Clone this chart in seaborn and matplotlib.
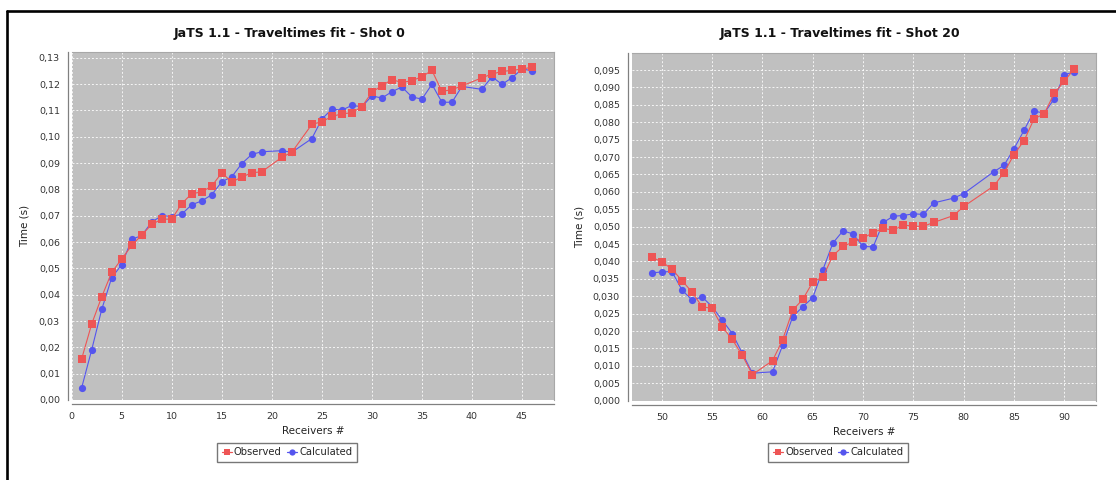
import matplotlib
matplotlib.use("Agg")
import matplotlib.pyplot as plt
import seaborn as sns
from matplotlib.ticker import FuncFormatter, MultipleLocator
from matplotlib.lines import Line2D
from matplotlib import font_manager

# ---- Shot 0 ----
rec_shot0 = [1, 2, 3, 4, 5, 6, 7, 8, 9, 10, 11, 12, 13, 14, 15, 16, 17, 18, 19,
             21, 22, 24, 25, 26, 27, 28, 29, 30, 31, 32, 33, 34, 35, 36, 37, 38, 39,
             41, 42, 43, 44, 45, 46]
obs_shot0 = [0.0157, 0.0289, 0.0392, 0.0485, 0.0536, 0.0587, 0.0627, 0.0667, 0.0687, 0.0687,
             0.0746, 0.0784, 0.0790, 0.0813, 0.0863, 0.0828, 0.0847, 0.0863, 0.0867,
             0.0922, 0.0941, 0.1047, 0.1057, 0.1077, 0.1087, 0.1091, 0.1114, 0.1169, 0.1194,
             0.1217, 0.1206, 0.1213, 0.1228, 0.1252, 0.1172, 0.1179, 0.1193,
             0.1224, 0.1238, 0.1248, 0.1252, 0.1257, 0.1264]
calc_shot0 = [0.0047, 0.0191, 0.0344, 0.0465, 0.0514, 0.0610, 0.0625, 0.0676, 0.0700, 0.0697,
              0.0706, 0.0742, 0.0756, 0.0780, 0.0829, 0.0848, 0.0898, 0.0933, 0.0943,
              0.0947, 0.0941, 0.0993, 0.1067, 0.1105, 0.1101, 0.1119, 0.1114, 0.1155, 0.1147,
              0.1171, 0.1189, 0.1151, 0.1143, 0.1199, 0.1131, 0.1131, 0.1191,
              0.1180, 0.1228, 0.1199, 0.1224, 0.1257, 0.1251]

# ---- Shot 20 ----
rec_shot20 = [49, 50, 51, 52, 53, 54, 55, 56, 57, 58, 59,
              61, 62, 63, 64, 65, 66, 67, 68, 69, 70, 71, 72, 73, 74, 75, 76, 77,
              79, 80, 83, 84, 85, 86, 87, 88, 89, 90, 91]
obs_shot20 = [0.0412, 0.0399, 0.0378, 0.0345, 0.0312, 0.0270, 0.0265, 0.0212, 0.0176, 0.0130, 0.0075,
              0.0115, 0.0175, 0.0260, 0.0291, 0.0341, 0.0355, 0.0417, 0.0443, 0.0456, 0.0467,
              0.0483, 0.0495, 0.0490, 0.0505, 0.0501, 0.0501, 0.0512,
              0.0532, 0.0558, 0.0617, 0.0655, 0.0707, 0.0747, 0.0810, 0.0824, 0.0883, 0.0918, 0.0954]
calc_shot20 = [0.0367, 0.0370, 0.0371, 0.0318, 0.0289, 0.0298, 0.0270, 0.0231, 0.0193, 0.0136, 0.0079,
               0.0083, 0.0159, 0.0241, 0.0270, 0.0296, 0.0376, 0.0453, 0.0488, 0.0479, 0.0443,
               0.0442, 0.0512, 0.0530, 0.0532, 0.0537, 0.0535, 0.0568,
               0.0582, 0.0595, 0.0658, 0.0676, 0.0724, 0.0777, 0.0832, 0.0826, 0.0867, 0.0937, 0.0944]

titles = ["JaTS 1.1 - Traveltimes fit - Shot 0", "JaTS 1.1 - Traveltimes fit - Shot 20"]
series_names = ["Observed", "Calculated"]
x_label = "Receivers #"
y_label = "Time (s)"

RED = "#EE5555"
BLUE = "#5555EE"
BG = "#C0C0C0"

sns.set_style("white")
plt.rcParams["font.family"] = ["DejaVu Sans"]

installed = {f.name for f in font_manager.fontManager.ttflist}
narrow = "Liberation Sans Narrow" if "Liberation Sans Narrow" in installed else None
title_family = [narrow] if narrow else ["DejaVu Sans"]
title_size = 11.5 if narrow else 9.0

W, H = 1116, 480
fig = plt.figure(figsize=(W / 100, H / 100), dpi=100)
fig.patch.set_facecolor("white")


def px_axes(x0, y0, x1, y1):
    return fig.add_axes([x0 / W, 1 - y1 / H, (x1 - x0) / W, (y1 - y0) / H])


def comma_fmt(decimals):
    return FuncFormatter(lambda v, p: f"{v:.{decimals}f}".replace(".", ","))


def style_axes(ax, xlim, ylim, ystep, decimals):
    ax.set_facecolor(BG)
    ax.set_xlim(*xlim)
    ax.set_ylim(*ylim)
    ax.xaxis.set_major_locator(MultipleLocator(5))
    ax.yaxis.set_major_locator(MultipleLocator(ystep))
    ax.yaxis.set_major_formatter(comma_fmt(decimals))
    ax.xaxis.set_major_formatter(FuncFormatter(lambda v, p: f"{v:.0f}"))
    ax.grid(True, color="white", linestyle=(0, (2, 2)), linewidth=0.7, alpha=0.85)
    ax.set_axisbelow(True)
    for s in ("top", "right"):
        ax.spines[s].set_color("#A8A8A8")
        ax.spines[s].set_linewidth(0.8)
    for s in ("left", "bottom"):
        ax.spines[s].set_color("#808080")
        ax.spines[s].set_linewidth(0.9)
        ax.spines[s].set_position(("outward", 3))
    ax.tick_params(axis="both", which="major", direction="out", length=2.5, width=0.6,
                   color="#808080", labelsize=6.8, labelcolor="#333333", pad=3)
    ax.set_xlabel(x_label, fontsize=7.5, color="#222222")
    ax.set_ylabel(y_label, fontsize=7.5, color="#222222")


def draw_series(ax, rec, obs, calc):
    sns.lineplot(x=rec, y=calc, ax=ax, color=BLUE, marker="o", markersize=5.2,
                 markeredgecolor=BLUE, markeredgewidth=0, linewidth=0.8,
                 label=series_names[1], legend=False, zorder=3)
    sns.lineplot(x=rec, y=obs, ax=ax, color=RED, marker="s", markersize=5.2,
                 markeredgecolor=RED, markeredgewidth=0, linewidth=0.8,
                 label=series_names[0], legend=False, zorder=4)


def add_legend(cx, cy):
    handles = [
        Line2D([], [], color=RED, marker="s", markersize=4.5, markeredgewidth=0, linewidth=0.9),
        Line2D([], [], color=BLUE, marker="o", markersize=4.5, markeredgewidth=0, linewidth=0.9),
    ]
    leg = fig.legend(handles, series_names, loc="center", bbox_to_anchor=(cx / W, 1 - cy / H),
                     bbox_transform=fig.transFigure, ncol=2, fontsize=7.2, frameon=True,
                     fancybox=False, handlelength=1.0, handletextpad=0.25, columnspacing=0.5,
                     borderpad=0.45, borderaxespad=0)
    leg.get_frame().set_edgecolor("#555555")
    leg.get_frame().set_linewidth(1.0)


ax1 = px_axes(71.7, 51.7, 554, 400)
draw_series(ax1, rec_shot0, obs_shot0, calc_shot0)
style_axes(ax1, (0, 48.2), (0, 0.1323), 0.01, 2)
ax1.yaxis.set_label_coords((30 - 71.7) / (554 - 71.7), 0.5)

ax2 = px_axes(631.7, 53.3, 1096, 400.7)
draw_series(ax2, rec_shot20, obs_shot20, calc_shot20)
style_axes(ax2, (47.0, 93.15), (0, 0.0998), 0.005, 3)
ax2.yaxis.set_label_coords((585 - 631.7) / (1096 - 631.7), 0.5)

for ax in (ax1, ax2):
    ax.xaxis.set_label_coords(0.5, -0.075)

fig.text(290 / W, 1 - 33 / H, titles[0], ha="center", va="center", family=title_family,
         fontsize=title_size, fontweight="bold", color="#111111")
fig.text(840 / W, 1 - 33 / H, titles[1], ha="center", va="center", family=title_family,
         fontsize=title_size, fontweight="bold", color="#111111")

add_legend(287, 452)
add_legend(838, 452)

# outer frame (top and left edges)
fig.add_artist(Line2D([7 / W, 1.0], [1 - 11 / H, 1 - 11 / H], transform=fig.transFigure,
                      color="black", linewidth=1.9))
fig.add_artist(Line2D([7 / W, 7 / W], [0, 1 - 11 / H], transform=fig.transFigure,
                      color="black", linewidth=1.9))

fig.savefig("out.png", dpi=100, facecolor="white")
